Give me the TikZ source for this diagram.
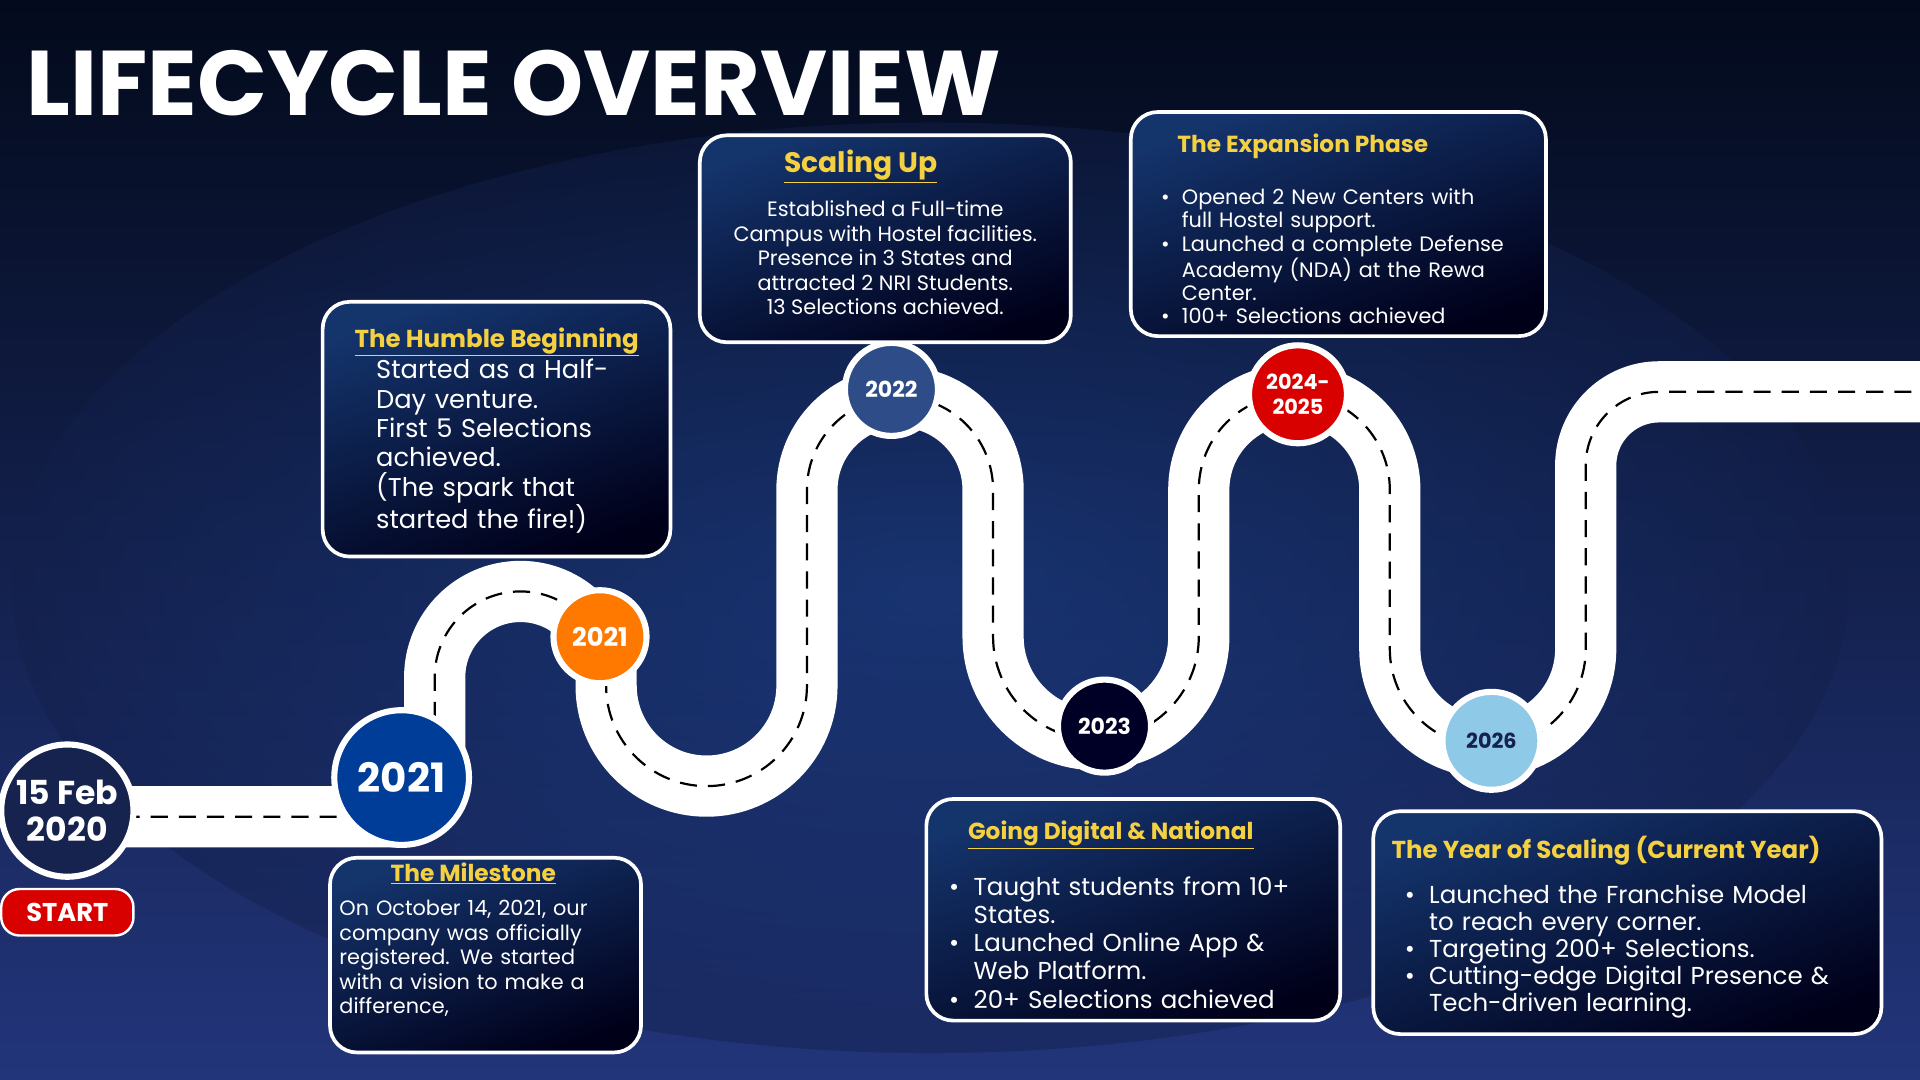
\documentclass[tikz,border=0pt]{standalone}
\usepackage{fontspec}
\setmainfont{Poppins}
\usetikzlibrary{shapes.geometric}
\definecolor{bgtop}{HTML}{030A1C}
\definecolor{bgbot}{HTML}{22357A}
\definecolor{glow}{HTML}{1D4A9A}
\definecolor{ttl}{HTML}{F5D142}
\definecolor{navy}{HTML}{17234F}
\newcommand{\bl}[1]{\par\hangindent=1em\hangafter=1\makebox[1em][l]{\textbullet}#1\par}
\newcommand{\blb}[2]{\par\noindent\makebox[1em][l]{\textbullet}#1\par\noindent\hspace*{1em}#2\par}
\begin{document}
\begin{tikzpicture}[x=1pt,y=-1pt,
 box/.style={draw=white,line width=3pt,rounded corners=22pt,top color=glow!70!black,bottom color=black!90!blue,shading angle=20,anchor=north west,inner sep=0pt},
 head/.style={text=ttl,font=\bfseries\fontsize{19}{22}\selectfont,anchor=north},
 body/.style={text=white,align=left,anchor=north west,inner sep=0pt,execute at begin node={\hyphenpenalty=10000\exhyphenpenalty=10000}},
 yr/.style={circle,draw=white,line width=5pt,text=white,font=\bfseries,align=center,inner sep=0pt}]
\useasboundingbox (0,0) rectangle (1568,882);
\shade[top color=bgtop,bottom color=bgbot] (0,0) rectangle (1568,882);
\shade[inner color=glow,outer color=bgtop!50!bgbot,opacity=0.45] (760,480) ellipse (750 and 380);
\node[anchor=west,text=white,font=\bfseries\fontsize{75}{78}\selectfont] (title) at (18,68) {LIFECYCLE OVERVIEW};
% road
\def\road{(100,667) -- (325,667) arc[start angle=90,end angle=0,radius=30] -- (355,553)
 arc[start angle=180,end angle=360,radius=70] -- (495,560)
 arc[start angle=180,end angle=0,radius=82] -- (659,400)
 arc[start angle=180,end angle=360,radius=76] -- (811,520)
 arc[start angle=180,end angle=0,radius=84] -- (979,400)
 arc[start angle=180,end angle=360,radius=78] -- (1135,530)
 arc[start angle=180,end angle=0,radius=80] -- (1295,380)
 arc[start angle=180,end angle=270,radius=60] -- (1570,320)}
\draw[white,line width=50pt] \road;
\draw[black,line width=1.8pt,dash pattern=on 14pt off 9pt] \road;
% circles
\node[yr,fill=navy,minimum size=108pt,font=\bfseries\fontsize{27}{30}\selectfont] (c0) at (55,662) {15 Feb\\2020};
\node[fill=red!85!black,draw=white,line width=2pt,rounded corners=15pt,minimum width=108pt,minimum height=38pt,text=white,font=\bfseries\fontsize{21}{24}\selectfont] (start) at (55,745) {START};
\node[yr,fill=blue!60!cyan!60!black,minimum size=110pt,font=\bfseries\fontsize{33}{36}\selectfont] (c1) at (328,635) {2021};
\node[yr,fill=orange!95!red,minimum size=76pt,font=\bfseries\fontsize{21}{24}\selectfont] (c2) at (490,520) {2021};
\node[yr,fill={rgb,255:red,46;green,77;blue,136},minimum size=76pt,font=\bfseries\fontsize{18}{21}\selectfont] (c3) at (728,318) {2022};
\node[yr,fill=black!85!blue,minimum size=76pt,font=\bfseries\fontsize{18}{21}\selectfont] (c4) at (902,593) {2023};
\node[yr,fill=red!85!black,minimum size=80pt,font=\bfseries\fontsize{17}{20}\selectfont] (c5) at (1060,322) {2024-\\2025};
\node[yr,fill={rgb,255:red,143;green,201;blue,232},text=navy,minimum size=80pt,font=\bfseries\fontsize{17}{20}\selectfont] (c6) at (1218,605) {2026};
% boxes
\node[box,minimum width=284pt,minimum height=208pt] (b1) at (262,245) {};
\node[head,anchor=north west,font=\bfseries\fontsize{20}{23}\selectfont] (h1) at (286,264) {\underline{The Humble Beginning}};
\node[body,text width=240pt,font=\fontsize{21}{24}\selectfont] (t1) at (307,293) {Started as a Half-\\Day venture.\\First 5 Selections\\achieved.\\ (The spark that\\started the fire!)};
\node[box,minimum width=303pt,minimum height=169pt] (b2) at (570,109) {};
\node[head,font=\bfseries\fontsize{23}{26}\selectfont] (h2) at ([xshift=-20pt,yshift=-10pt]b2.north) {\underline{Scaling Up}};
\node[body,align=center,anchor=north,font=\fontsize{17}{20}\selectfont] (t2) at ([yshift=-55pt]b2.north) {Established a Full-time\\Campus with Hostel facilities.\\Presence in 3 States and\\attracted 2 NRI Students.\\13 Selections achieved.};
\node[box,minimum width=339pt,minimum height=183pt] (b3) at (922,90) {};
\node[head,anchor=north west] (h3) at (958,106) {The Expansion Phase};
\node[body,text width=292pt,font=\fontsize{17}{19}\selectfont] (t3) at (948,148) {\blb{Opened 2 New Centers with}{full Hostel support.}\bl{Launched a complete Defense Academy (NDA) at the Rewa Center.}\bl{100+ Selections achieved}};
\node[box,minimum width=254pt,minimum height=159pt] (b4) at (268,699) {};
\node[head] (h4) at ([xshift=-10pt,yshift=-2pt]b4.north) {\underline{The Milestone}};
\node[body,text width=240pt,font=\fontsize{17}{20}\selectfont] (t4) at (277,735) {On October 14, 2021, our company was officially registered. We started with a vision to make a difference,};
\node[box,minimum width=338pt,minimum height=181pt] (b5) at (755,651) {};
\node[head,anchor=north west] (h5) at (787,667) {\underline{Going Digital \& National}};
\node[body,text width=300pt,font=\fontsize{20}{23}\selectfont] (t5) at (775,708) {\bl{Taught students from 10+ States.}\bl{Launched Online App \& Web Platform.}\bl{20+ Selections achieved}};
\node[box,minimum width=415pt,minimum height=182pt] (b6) at (1120,661) {};
\node[head,anchor=north west,font=\bfseries\fontsize{20}{23}\selectfont] (h6) at (1133,679) {The Year of Scaling (Current Year)};
\node[body,text width=355pt,font=\fontsize{20}{22}\selectfont] (t6) at (1147,716) {\bl{Launched the Franchise Model to reach every corner.}\bl{Targeting 200+ Selections.}\bl{Cutting-edge Digital Presence \& Tech-driven learning.}};
\end{tikzpicture}
\end{document}
